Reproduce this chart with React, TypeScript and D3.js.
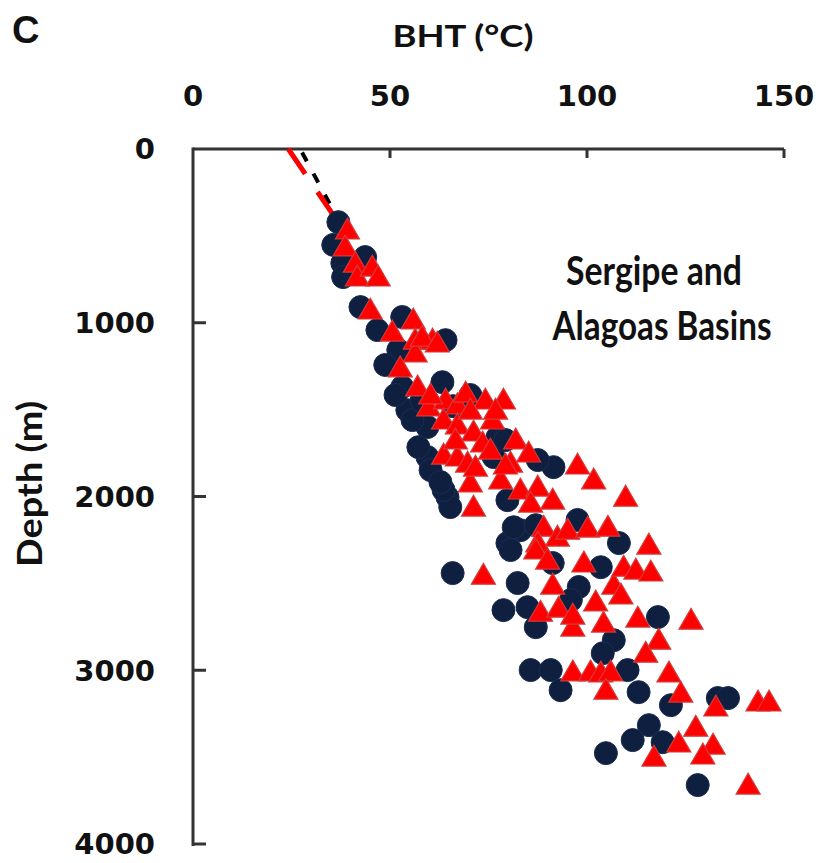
import React from "react";
import * as d3 from "d3";

// BHT (°C) vs Depth (m) — Sergipe and Alagoas Basins
const xTicks = [0, 50, 100, 150];
const yTicks = [0, 1000, 2000, 3000, 4000];

// Navy circles: [BHT °C, depth m]
const circleT = [36.9, 35.6, 37.9, 38.1, 43.7, 42.5, 46.8, 53.1, 64.1, 52.1, 48.8, 53.1, 54.4, 63.3, 59.5, 59.5, 64.6, 65.3, 77.3, 76.3, 79.8, 83.1, 79.8, 91.5, 63.6, 57.2, 81.4, 87.0, 97.6, 80.6, 82.4, 78.8, 84.9, 87.0, 91.3, 97.9, 95.9, 103.5, 108.1, 118.0, 106.8, 104.0, 85.7, 90.8, 93.3, 110.3, 113.1, 65.9, 121.3, 133.2, 135.8, 115.7, 111.6, 119.2, 104.8, 128.1, 51.4, 55.7, 60.3, 62.8, 70.4, 79.3, 87.5, 66.0, 58.0];
const circleD = [421, 552, 657, 737, 622, 910, 1042, 967, 1100, 1157, 1243, 1370, 1503, 1342, 1600, 1773, 2004, 2061, 1658, 1773, 2021, 2194, 2268, 1831, 1963, 1716, 2177, 2165, 2135, 2308, 2498, 2654, 2637, 2752, 2383, 2521, 2596, 2407, 2268, 2694, 2827, 2902, 2999, 2999, 3115, 2999, 3126, 2441, 3201, 3160, 3160, 3316, 3402, 3414, 3477, 3661, 1416, 1560, 1848, 1917, 1416, 1675, 1790, 1480, 1450];

// Red triangles: [BHT °C, depth m]
const triT = [39.2, 38.6, 41.2, 41.7, 45.5, 47.0, 45.0, 50.6, 55.9, 56.4, 60.8, 56.4, 52.6, 58.2, 62.0, 57.0, 59.8, 64.1, 67.1, 63.6, 67.1, 63.6, 67.1, 69.7, 70.4, 71.2, 69.2, 74.2, 78.8, 71.2, 76.0, 73.5, 71.7, 81.9, 85.2, 80.6, 78.1, 83.1, 87.5, 85.7, 91.3, 89.0, 92.5, 87.5, 97.6, 101.7, 109.8, 95.1, 100.2, 105.3, 87.0, 90.0, 99.2, 91.3, 88.2, 92.8, 96.4, 96.4, 102.2, 104.2, 106.8, 108.6, 109.3, 112.4, 116.2, 115.7, 112.9, 118.2, 114.9, 120.8, 96.4, 100.9, 103.5, 106.0, 104.8, 73.7, 123.8, 132.7, 143.4, 146.2, 127.6, 123.3, 132.0, 129.4, 117.0, 140.9, 126.4, 60.3, 70.4, 76.8, 66.6, 75.5, 79.3];
const triD = [466, 564, 657, 737, 680, 737, 927, 1054, 984, 1100, 1100, 1174, 1260, 1083, 1117, 1370, 1485, 1445, 1473, 1560, 1589, 1762, 1773, 1808, 1922, 2061, 1405, 1445, 1445, 1629, 1560, 1692, 1831, 1675, 1750, 1808, 1905, 1963, 1946, 2038, 2021, 2177, 2234, 2268, 1819, 1905, 2004, 2194, 2182, 2177, 2308, 2366, 2383, 2510, 2666, 2643, 2752, 2683, 2607, 2729, 2510, 2567, 2407, 2424, 2435, 2280, 2700, 2827, 2902, 3016, 3010, 3010, 3016, 3010, 3115, 2453, 3132, 3212, 3183, 3183, 3328, 3419, 3431, 3488, 3500, 3661, 2712, 1416, 1503, 1503, 1675, 1733, 1819];

// Surface trend segments (dashed)
const redLineT = [24.2, 37.7];
const redLineD = [0, 450];
const blackLineT = [27.2, 37.9];
const blackLineD = [0, 450];

export default function App() {
  const x = d3.scaleLinear().domain([0, 150]).range([193, 784]);
  const y = d3.scaleLinear().domain([0, 4000]).range([149, 844]);

  const circles = circleT.map((t, i) => ({ t, d: circleD[i] }));
  const tris = triT.map((t, i) => ({ t, d: triD[i] }));

  const line = d3
    .line<[number, number]>()
    .x((p) => x(p[0]))
    .y((p) => y(p[1]));
  const redPts = redLineT.map((t, i) => [t, redLineD[i]] as [number, number]);
  const blackPts = blackLineT.map((t, i) => [t, blackLineD[i]] as [number, number]);

  const triPath = d3.symbol().type(d3.symbolTriangle).size(250)();

  const axisColor = "#333";
  const numFont = "'DejaVu Sans', Verdana, sans-serif";
  const labFont = "Lato, 'Open Sans', sans-serif";

  return (
    <svg
      width={821}
      height={863}
      style={{ position: "absolute", left: 0, top: 0, background: "#fff" }}
    >
      <rect x={0} y={0} width={821} height={863} fill="#fff" />
      {/* panel letter */}
      <text x={12} y={43} fontFamily="'Liberation Sans', Arial, sans-serif" fontWeight="bold" fontSize={38} fill="#111">
        C
      </text>
      {/* x title */}
      <text x={463} y={47} textAnchor="middle" fontFamily={labFont} fontWeight="bold" fontSize={31} fill="#111" textLength={141} lengthAdjust="spacingAndGlyphs">
        BHT (°C)
      </text>
      {/* y title */}
      <text
        transform="translate(42,484) rotate(-90)"
        textAnchor="middle"
        fontFamily={labFont}
        fontWeight="bold"
        fontSize={34}
        fill="#111"
        textLength={166}
        lengthAdjust="spacingAndGlyphs"
      >
        Depth (m)
      </text>

      {/* x tick labels */}
      {xTicks.map((v) => (
        <text key={"xt" + v} x={x(v)} y={106} textAnchor="middle" fontFamily={numFont} fontWeight="bold" fontSize={29} fill="#111">
          {v}
        </text>
      ))}
      {/* y tick labels */}
      {yTicks.map((v) => (
        <text key={"yt" + v} x={155} y={y(v)} dy="0.36em" textAnchor="end" fontFamily={numFont} fontWeight="bold" fontSize={29} fill="#111">
          {v}
        </text>
      ))}

      {/* axes */}
      <line x1={x(0)} x2={x(150)} y1={y(0)} y2={y(0)} stroke={axisColor} strokeWidth={3} />
      <line x1={x(0)} x2={x(0)} y1={y(0) - 1.5} y2={y(4000) + 2} stroke={axisColor} strokeWidth={3} />
      {xTicks.filter((v) => v > 0).map((v) => (
        <line key={"xl" + v} x1={x(v)} x2={x(v)} y1={y(0)} y2={y(0) + 9} stroke={axisColor} strokeWidth={3} />
      ))}
      {yTicks.filter((v) => v > 0).map((v) => (
        <line key={"yl" + v} x1={x(0)} x2={x(0) + 13} y1={y(v)} y2={y(v)} stroke={axisColor} strokeWidth={3} />
      ))}

      {/* dashed trend */}
      <path d={line(blackPts) || ""} stroke="#000" strokeWidth={4} fill="none" strokeDasharray="10 14" strokeDashoffset={-4} />
      <path d={line(redPts) || ""} stroke="#ff0000" strokeWidth={5} fill="none" strokeDasharray="30 22" />

      {/* circles */}
      {circles.map((c, i) => (
        <circle key={"c" + i} cx={x(c.t)} cy={y(c.d)} r={11.5} fill="#0f1f3f" stroke="#1b2d52" strokeWidth={1} />
      ))}
      {/* triangles */}
      {tris.map((p, i) => (
        <path key={"t" + i} d={triPath || ""} transform={`translate(${x(p.t)},${y(p.d) + 2})`} fill="#ff0000" stroke="#d33a3a" strokeWidth={1.2} />
      ))}

      {/* annotation */}
      <text x={654} y={285} textAnchor="middle" fontFamily={labFont} fontWeight="bold" fontSize={40} fill="#111" textLength={176} lengthAdjust="spacingAndGlyphs">
        Sergipe and
      </text>
      <text x={662} y={340} textAnchor="middle" fontFamily={labFont} fontWeight="bold" fontSize={40} fill="#111" textLength={219} lengthAdjust="spacingAndGlyphs">
        Alagoas Basins
      </text>
    </svg>
  );
}
